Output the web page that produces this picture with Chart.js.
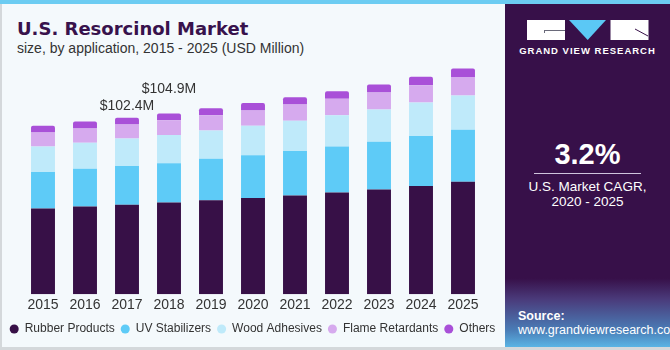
<!DOCTYPE html>
<html>
<head>
<meta charset="utf-8">
<script src="https://cdn.jsdelivr.net/npm/chart.js@4"></script>
<style>
  body { margin: 0; }
  #wrap { position: relative; width: 670px; height: 350px; background: #f4f9fc; overflow: hidden;
          font-family: "Liberation Sans", Arial, sans-serif; }
  #topbar { position: absolute; left: 0; top: 0; width: 670px; height: 4px; background: #6cccf2; }
  #leftline { position: absolute; left: 0; top: 4px; width: 2px; height: 346px; background: #d4d8db; }
  #botline { position: absolute; left: 0; top: 347px; width: 670px; height: 3px; background: #d4d8db; }
  #title { position: absolute; left: 17px; top: 20px; font-family: "DejaVu Sans", sans-serif; font-size: 18px;
           line-height: 18px; font-weight: bold; color: #38124c; }
  #sub { position: absolute; left: 17px; top: 40px; font-size: 14px; color: #333; }
  #box { position: absolute; left: 0; top: 60px; width: 505px; height: 287px; }
  #panel { position: absolute; left: 505px; top: 4px; width: 165px; height: 343px;
           background: linear-gradient(to bottom, #371049 0%, #371049 80%, #4a3a7a 86%, #4a7cb6 95%, #5ab4e4 100%); color: #fff; }
  #gvr { position: absolute; left: 0; top: 41px; width: 165px; text-align: center; font-size: 9.5px;
         font-weight: bold; letter-spacing: 1px; }
  #cagr { position: absolute; left: 0; top: 134px; width: 165px; text-align: center; font-size: 29px; font-weight: bold; }
  #rule { position: absolute; left: 29px; top: 169px; width: 107px; height: 1px; background: #cfc4dd; }
  #cagrtxt { position: absolute; left: 0; top: 175px; width: 165px; text-align: center; font-size: 13.5px; line-height: 15px; }
  #src { position: absolute; left: 13px; top: 305px; font-size: 12.5px; line-height: 14px; }
</style>
</head>
<body>
<div id="wrap">
  <div id="topbar"></div>
  <div id="leftline"></div>
  <div id="title">U.S. Resorcinol Market</div>
  <div id="sub">size, by application, 2015 - 2025 (USD Million)</div>
  <div id="box"><canvas id="myChart"></canvas></div>
  <div id="panel">
    <svg style="position:absolute;left:0;top:0" width="165" height="40">
      <rect x="22" y="16" width="38" height="20" fill="#fff"/>
      <path d="M39.5 26.5 H60 M39.5 26 V29" stroke="#6a6a7a" stroke-width="1" fill="none"/>
      <polygon points="64,16 101,16 82.7,36" fill="#5bc8f5"/>
      <rect x="105.5" y="16" width="38" height="20" fill="#fff"/>
      <path d="M130 25 L143 32" stroke="#371049" stroke-width="1"/>
    </svg>
    <div id="gvr">GRAND VIEW RESEARCH</div>
    <div id="cagr">3.2%</div>
    <div id="rule"></div>
    <div id="cagrtxt">U.S. Market CAGR,<br>2020 - 2025</div>
    <div id="src"><b>Source:</b><br>www.grandviewresearch.com</div>
  </div>
  <div id="botline"></div>
</div>
<script>
const years = ["2015","2016","2017","2018","2019","2020","2021","2022","2023","2024","2025"];
const rubberProducts = [49.7, 51.0, 52.0, 53.2, 54.6, 55.9, 57.3, 59.1, 60.8, 62.9, 65.3];
const uvStabilizers = [21.2, 21.8, 22.4, 22.9, 24.0, 24.8, 25.9, 26.7, 27.7, 28.9, 30.2];
const woodAdhesives = [14.8, 15.2, 16.0, 16.3, 16.5, 17.1, 17.5, 18.1, 18.7, 19.5, 19.9];
const flameRetardants = [8.2, 8.2, 8.1, 8.6, 8.8, 8.9, 9.4, 9.6, 9.9, 10.1, 10.7];
const others = [3.9, 4.1, 3.9, 3.9, 4.1, 4.3, 4.3, 4.4, 4.7, 4.9, 4.9];
const calloutYears = ["2017", "2018"];
const calloutText = ["$102.4M", "$104.9M"];

const seriesNames = ["Rubber Products", "UV Stabilizers", "Wood Adhesives", "Flame Retardants", "Others"];
const seriesData = [rubberProducts, uvStabilizers, woodAdhesives, flameRetardants, others];
const seriesColors = ["#371047", "#5ecbf7", "#bfeafa", "#d6aaee", "#a950d8"];

const font = "'Liberation Sans', Arial, sans-serif";

// labels above the 2017 and 2018 bars
const callouts = {
  id: "callouts",
  afterDatasetsDraw(chart) {
    const { ctx, scales } = chart;
    ctx.save();
    ctx.font = "14px " + font;
    ctx.fillStyle = "#333";
    ctx.textAlign = "center";
    ctx.textBaseline = "middle";
    calloutYears.forEach((yr, k) => {
      const i = years.indexOf(yr);
      const total = seriesData.reduce((s, d) => s + d[i], 0);
      const x = scales.x.getPixelForValue(i);
      const y = scales.y.getPixelForValue(total) - (k === 0 ? 12 : 24);
      ctx.fillText(calloutText[k], x, y);
    });
    ctx.restore();
  }
};

new Chart(document.getElementById("myChart"), {
  type: "bar",
  data: {
    labels: years,
    datasets: seriesNames.map((name, i) => ({
      label: name,
      data: seriesData[i],
      backgroundColor: seriesColors[i],
      barPercentage: 0.57,
      categoryPercentage: 1,
      borderRadius: i === 4 ? { topLeft: 2, topRight: 2 } : 0,
      borderSkipped: false
    }))
  },
  options: {
    responsive: true,
    maintainAspectRatio: false,
    animation: false,
    layout: { padding: { left: 0, right: 0, top: 0, bottom: 2 } },
    scales: {
      x: {
        stacked: true,
        grid: { display: false, drawTicks: false },
        border: { display: false },
        ticks: { color: "#333", font: { size: 14, family: font }, padding: 3 }
      },
      y: {
        stacked: true,
        min: 0,
        max: 136,
        grid: { display: false, drawTicks: false },
        border: { display: false },
        ticks: { display: false },
        afterFit(s) { s.width = 22; }
      },
      yRight: {
        position: "right",
        min: 0,
        max: 1,
        grid: { display: false, drawTicks: false },
        border: { display: false },
        ticks: { display: false },
        afterFit(s) { s.width = 21; }
      }
    },
    plugins: {
      legend: {
        position: "bottom",
        labels: {
          usePointStyle: true,
          pointStyle: "circle",
          boxWidth: 9,
          boxHeight: 6.4,
          padding: 6,
          color: "#333",
          font: { size: 12, family: font }
        }
      },
      tooltip: { enabled: false }
    }
  },
  plugins: [callouts]
});
</script>
</body>
</html>
